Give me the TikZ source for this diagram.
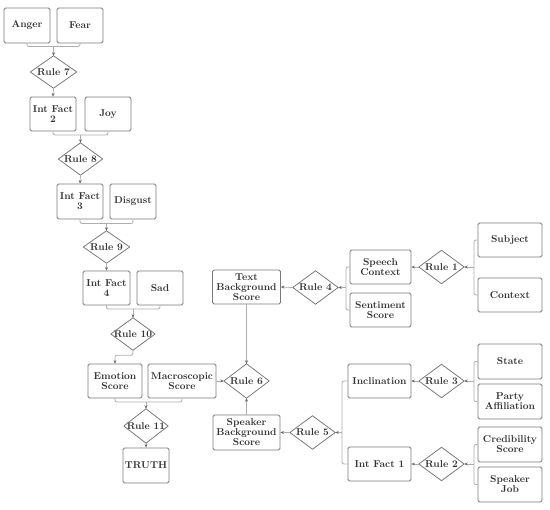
\documentclass[tikz,border=0pt]{standalone}
\usetikzlibrary{arrows.meta,calc}
\definecolor{bord}{HTML}{7A7A7A}
\definecolor{lnc}{HTML}{ADADAD}
\definecolor{txt}{HTML}{333333}
\definecolor{tipc}{HTML}{6A6A6A}
\begin{document}
\begin{tikzpicture}[x=1pt,y=-1pt,
  every node/.style={font=\fontsize{10}{10}\selectfont\bfseries, text=txt, align=center, inner sep=0pt},
  box/.style={draw=bord, line width=0.8pt, rounded corners=1.5pt, minimum width=#1},
  box/.default=46pt,
  rulen/.style={minimum width=45pt, minimum height=33pt},
  ln/.style={draw=lnc, line width=0.8pt, rounded corners=2pt},
  arr/.style={ln, -{Stealth[length=3.5pt,width=3pt,color=tipc]}}
]
\useasboundingbox (0,0) rectangle (550,510);
% left column
\node[box, minimum height=35pt] (anger) at (27,25.5) {Anger};
\node[box, minimum height=35pt] (fear) at (80,25.5) {Fear};
\node[rulen, minimum width=46pt, minimum height=32pt] (r7) at (53.5,72) {Rule 7};
\node[box, minimum height=34pt] (if2) at (53,114) {Int Fact\\2};
\node[box, minimum height=34pt] (joy) at (108,114) {Joy};
\node[rulen, minimum width=44pt, minimum height=32pt] (r8) at (80.5,159) {Rule 8};
\node[box, minimum height=35pt] (if3) at (80,201.5) {Int Fact\\3};
\node[box, minimum height=35pt] (disgust) at (133,201.5) {Disgust};
\node[rulen, minimum width=46pt, minimum height=32pt] (r9) at (106.5,247) {Rule 9};
\node[box=47pt, minimum height=34pt] (if4) at (106.5,288) {Int Fact\\4};
\node[box, minimum height=34pt] (sad) at (160,288) {Sad};
\node[rulen, minimum width=44pt, minimum height=32pt] (r10) at (133,334) {Rule 10};
\node[box=54pt, minimum height=34pt] (emotion) at (115,381) {Emotion\\Score};
\node[box=68pt, minimum height=34pt] (macro) at (182,381) {Macroscopic\\Score};
\node[rulen, minimum width=44pt, minimum height=34pt] (r11) at (146,426) {Rule 11};
\node[box, minimum height=35pt] (truth) at (146,465.5) {TRUTH};
% middle
\node[rulen, minimum height=34pt] (r6) at (246.5,381) {Rule 6};
\node[box=68pt, minimum height=34pt] (tbs) at (246.5,287) {Text\\Background\\Score};
\node[box=67pt, minimum height=35pt] (sbs) at (246.5,432.5) {Speaker\\Background\\Score};
\node[rulen] (r4) at (315.5,287.5) {Rule 4};
\node[box=61pt, minimum height=34pt] (speech) at (380.5,267) {Speech\\Context};
\node[box=61pt, minimum height=34pt] (senti) at (380.5,310) {Sentiment\\Score};
\node[rulen] (r1) at (441.5,267) {Rule 1};
\node[box=64pt, minimum height=34pt] (subject) at (510,240) {Subject};
\node[box=64pt, minimum height=34pt] (context) at (510,295) {Context};
\node[rulen] (r5) at (312.5,432.5) {Rule 5};
\node[box=63pt, minimum height=34pt] (incl) at (379.5,381) {Inclination};
\node[box=63pt, minimum height=34pt] (if1) at (379.5,464) {Int Fact 1};
\node[rulen] (r3) at (441.5,381) {Rule 3};
\node[box=64pt, minimum height=35pt] (state) at (510,361.5) {State};
\node[box=64pt, minimum height=35pt] (party) at (510,401.5) {Party\\Affiliation};
\node[rulen] (r2) at (441.5,464) {Rule 2};
\node[box=64pt, minimum height=35pt] (cred) at (510,444.5) {Credibility\\Score};
\node[box=64pt, minimum height=35pt] (job) at (510,484.5) {Speaker\\Job};
% diamonds
\foreach \n in {r1,r2,r3,r4,r5,r6,r7,r8,r9,r10,r11}
  \draw[draw=bord, line width=0.8pt, line join=round] (\n.north) -- (\n.east) -- (\n.south) -- (\n.west) -- cycle;
% junction coordinates
\coordinate (j7) at (53.5,46.5);
\coordinate (j8) at (80.5,135);
\coordinate (j9) at (106.5,223.5);
\coordinate (j10) at (133,309);
\coordinate (j11) at (146,402);
\coordinate (j4) at (346,287.5);
\coordinate (j1) at (474,267);
\coordinate (j5) at (342,432.5);
\coordinate (j3) at (474,381);
\coordinate (j2) at (474,464);
% left brackets
\draw[ln] (anger.south) |- (j7) -| (fear.south);
\draw[arr] (j7) -- (r7.north);
\draw[arr] (r7.south) -- (if2.north);
\draw[ln] (if2.south) |- (j8) -| (joy.south);
\draw[arr] (j8) -- (r8.north);
\draw[arr] (r8.south) -- (if3.north);
\draw[ln] (if3.south) |- (j9) -| (disgust.south);
\draw[arr] (j9) -- (r9.north);
\draw[arr] (r9.south) -- (if4.north);
\draw[ln] (if4.south) |- (j10) -| (sad.south);
\draw[arr] (j10) -- (r10.north);
\draw[arr] (r10.south) -- ++(0,5) -| (emotion.north);
\draw[ln] (emotion.south) |- (j11) -| (macro.south);
\draw[arr] (j11) -- (r11.north);
\draw[arr] (r11.south) -- (truth.north);
% middle
\draw[arr] (macro.east) -- (r6.west);
\draw[arr] (tbs.south) -- (r6.north);
\draw[arr] (sbs.north) -- (r6.south);
\draw[arr] (r4.west) -- (tbs.east);
\draw[ln] (speech.west) -| (j4) |- (senti.west);
\draw[arr] (j4) -- (r4.east);
\draw[arr] (r1.west) -- (speech.east);
\draw[ln] (subject.west) -| (j1) |- (context.west);
\draw[arr] (j1) -- (r1.east);
\draw[arr] (r5.west) -- (sbs.east);
\draw[ln] (incl.west) -| (j5) |- (if1.west);
\draw[arr] (j5) -- (r5.east);
\draw[arr] (r3.west) -- (incl.east);
\draw[ln] (state.west) -| (j3) |- (party.west);
\draw[arr] (j3) -- (r3.east);
\draw[arr] (r2.west) -- (if1.east);
\draw[ln] (cred.west) -| (j2) |- (job.west);
\draw[arr] (j2) -- (r2.east);
\end{tikzpicture}
\end{document}
